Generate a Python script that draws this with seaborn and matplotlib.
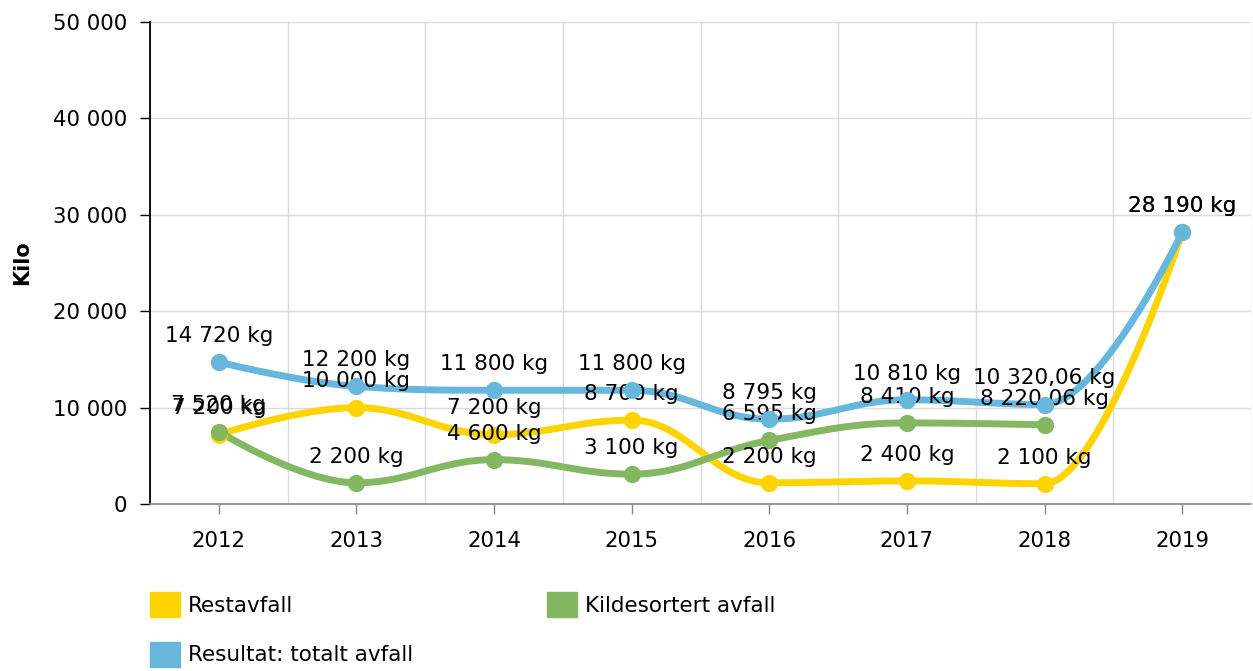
import numpy as np
import matplotlib
matplotlib.use('Agg')
import matplotlib.pyplot as plt
from matplotlib.patches import Patch
from matplotlib.ticker import FuncFormatter, MultipleLocator
import seaborn as sns

years = ['2012', '2013', '2014', '2015', '2016', '2017', '2018', '2019']
restavfall = [7200, 10000, 7200, 8700, 2200, 2400, 2100, 28190]
kildesortert = [7520, 2200, 4600, 3100, 6595, 8410, 8220.06]
totalt = [14720, 12200, 11800, 11800, 8795, 10810, 10320.06, 28190]

series_names = ['Restavfall', 'Kildesortert avfall', 'Resultat: totalt avfall']
colors = ['#FDD400', '#84B761', '#67B7DC']


def fmt_no(v):
    # norwegian style: space as thousand separator, comma for decimals
    if float(v).is_integer():
        s = '{:,.0f}'.format(v)
    else:
        s = '{:,.2f}'.format(v)
    return s.replace(',', ' ').replace('.', ',')


def spline(ys, smoothing=1.5, n=40):
    # smooth curve through the points (same idea as the chart lib's spline)
    xs = np.arange(len(ys), dtype=float)
    ys = np.asarray(ys, dtype=float)
    m = len(ys)
    left = [None] * m
    right = [None] * m
    denom = smoothing + 1
    for i in range(1, m - 1):
        x, y = xs[i], ys[i]
        lx, ly = xs[i - 1], ys[i - 1]
        nx, ny = xs[i + 1], ys[i + 1]
        lcx = (smoothing * x + lx) / denom
        lcy = (smoothing * y + ly) / denom
        rcx = (smoothing * x + nx) / denom
        rcy = (smoothing * y + ny) / denom
        if rcx != lcx:
            corr = (rcy - lcy) * (rcx - x) / (rcx - lcx) + y - rcy
            lcy += corr
            rcy += corr
        if lcy > ly and lcy > y:
            lcy = max(ly, y)
            rcy = 2 * y - lcy
        elif lcy < ly and lcy < y:
            lcy = min(ly, y)
            rcy = 2 * y - lcy
        if rcy > ny and rcy > y:
            rcy = max(ny, y)
            lcy = 2 * y - rcy
        elif rcy < ny and rcy < y:
            rcy = min(ny, y)
            lcy = 2 * y - rcy
        left[i] = (lcx, lcy)
        right[i] = (rcx, rcy)
    t = np.linspace(0, 1, n)[:, None]
    out = []
    for i in range(1, m):
        p0 = np.array([xs[i - 1], ys[i - 1]])
        p1 = np.array(right[i - 1]) if right[i - 1] is not None else p0
        p3 = np.array([xs[i], ys[i]])
        p2 = np.array(left[i]) if left[i] is not None else p3
        seg = ((1 - t) ** 3) * p0 + 3 * ((1 - t) ** 2) * t * p1 + 3 * (1 - t) * t ** 2 * p2 + t ** 3 * p3
        out.append(seg if i == 1 else seg[1:])
    out = np.vstack(out)
    return out[:, 0], out[:, 1]


sns.set_theme(style='white')
plt.rcParams['font.family'] = ['DejaVu Sans']
plt.rcParams['text.color'] = 'black'

fig = plt.figure(figsize=(12.53, 6.71), dpi=100)
ax = fig.add_axes([150 / 1253, 1 - 504 / 671, 1101 / 1253, 482 / 671])

all_series = [restavfall, kildesortert, totalt]
for k, (vals, c) in enumerate(zip(all_series, colors)):
    cx, cy = spline(vals)
    sns.lineplot(x=cx, y=cy, sort=False, estimator=None, color=c, linewidth=5, ax=ax, zorder=3 + k * 0.1)
    sns.scatterplot(x=np.arange(len(vals)), y=vals, color=c, s=155, linewidth=0, ax=ax,
                    zorder=6 if k == 2 else 4 + k * 0.1)

# data labels
for k, vals in enumerate(all_series):
    for i, v in enumerate(vals):
        ax.annotate(fmt_no(v) + ' kg', (i, v), xytext=(0, 14.5), textcoords='offset points',
                    ha='center', va='baseline', fontsize=15.5, color='black',
                    zorder=7 if k == 2 else 5)

ax.set_xlim(-0.5, len(years) - 0.5)
ax.set_ylim(0, 50000)
ax.set_xticks(range(len(years)))
ax.set_xticklabels(years)
ax.xaxis.set_minor_locator(MultipleLocator(1, offset=0.5))
ax.yaxis.set_major_locator(MultipleLocator(10000))
ax.yaxis.set_major_formatter(FuncFormatter(lambda v, p: fmt_no(v)))

ax.grid(True, which='major', axis='y', color='#DADADA', linewidth=1)
ax.grid(True, which='minor', axis='x', color='#DADADA', linewidth=1)
ax.set_axisbelow(True)

for s in ['top', 'right']:
    ax.spines[s].set_visible(False)
ax.spines['left'].set_color('black')
ax.spines['left'].set_linewidth(1.3)
ax.spines['bottom'].set_color('#888888')
ax.spines['bottom'].set_linewidth(1.2)

ax.tick_params(axis='y', which='major', left=True, length=7.2, width=1, color='black', pad=9,
               labelsize=15.3, labelcolor='black')
ax.tick_params(axis='x', which='major', bottom=True, length=7.2, width=1, color='#888888', pad=12,
               labelsize=15.3, labelcolor='black')
ax.tick_params(axis='x', which='minor', bottom=False)

ax.set_ylabel('Kilo', fontweight='bold', fontsize=15, color='black')
ax.yaxis.set_label_coords(-0.107, 0.5)
ax.set_xlabel('')

handles = [Patch(color=colors[0], label=series_names[0]),
           Patch(color=colors[2], label=series_names[2]),
           Patch(color=colors[1], label=series_names[1])]
fig.legend(handles=handles, loc='upper left', bbox_to_anchor=(150 / 1253, 1 - 592 / 671),
           ncol=2, frameon=False, fontsize=15.5, handlelength=1.4, handleheight=1.4,
           handletextpad=0.37, labelspacing=1.16, columnspacing=6.2, borderpad=0, borderaxespad=0,
           labelcolor='black')

fig.savefig('out.png', dpi=100)
